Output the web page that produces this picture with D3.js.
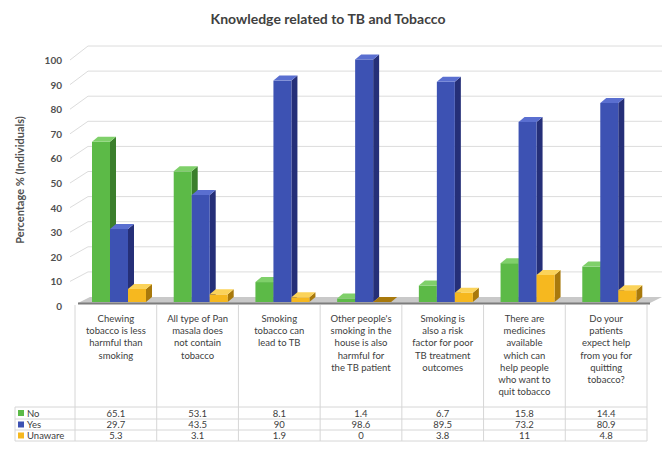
<!DOCTYPE html>
<html>
<head>
<meta charset="utf-8">
<script src="https://cdn.jsdelivr.net/npm/d3@7"></script>
<style>
  body { margin: 0; background: #fff; }
  text { font-family: Lato, "Open Sans", sans-serif; fill: #404040; }
</style>
</head>
<body>
<div id="chart"></div>
<script>
const categories = [
  "Chewing\ntobacco is less\nharmful than\nsmoking",
  "All type of Pan\nmasala does\nnot contain\ntobacco",
  "Smoking\ntobacco can\nlead to TB",
  "Other people's\nsmoking in the\nhouse is also\nharmful for\nthe TB patient",
  "Smoking is\nalso a risk\nfactor for poor\nTB treatment\noutcomes",
  "There are\nmedicines\navailable\nwhich can\nhelp people\nwho want to\nquit tobacco",
  "Do your\npatients\nexpect help\nfrom you for\nquitting\ntobacco?"
]
const seriesNames = ["No", "Yes", "Unaware"]
const noValues = [65.1, 53.1, 8.1, 1.4, 6.7, 15.8, 14.4]
const yesValues = [29.7, 43.5, 90, 98.6, 89.5, 73.2, 80.9]
const unawareValues = [5.3, 3.1, 1.9, 0, 3.8, 11, 4.8]
const yTicks = [0, 10, 20, 30, 40, 50, 60, 70, 80, 90, 100]

const colors = {
  No: { front: "#5cba47", top: "#7fd06a", side: "#3b7f2c" },
  Yes: { front: "#3d52b3", top: "#5a6fd0", side: "#252f78" },
  Unaware: { front: "#f6b81f", top: "#fbd35a", side: "#a8790c" }
}

const svgWidth = 669
const svgHeight = 457

const svg = d3.select("#chart").append("svg")
  .attr("width", svgWidth)
  .attr("height", svgHeight)

const rows = seriesNames.map((name, i) => ({
  name,
  values: [noValues, yesValues, unawareValues][i]
}))

const x = d3.scaleBand()
  .domain(d3.range(categories.length))
  .range([75, 647])

const xSub = d3.scaleBand()
  .domain(seriesNames)
  .range([17, 71])

// front plane and back wall
const y = d3.scaleLinear().domain([0, 100]).range([302, 56])
const yBack = d3.scaleLinear().domain([0, 100]).range([297, 46])
const depth = { dx: 6, dy: -5 }

// title
svg.append("text")
  .attr("x", 328)
  .attr("y", 24)
  .attr("text-anchor", "middle")
  .style("font-size", "14px")
  .style("font-weight", "bold")
  .text("Knowledge related to TB and Tobacco")

// y axis title
svg.append("text")
  .attr("transform", "translate(24, 180) rotate(-90)")
  .attr("text-anchor", "middle")
  .style("font-size", "11px")
  .style("font-weight", "bold")
  .style("fill", "#505050")
  .text("Percentage % (Individuals)")

// gridlines on back wall + side wall diagonals
const grid = svg.append("g")
grid.selectAll("line.back")
  .data(yTicks.slice(1))
  .join("line")
  .attr("x1", 88)
  .attr("x2", 662)
  .attr("y1", d => yBack(d))
  .attr("y2", d => yBack(d))
  .attr("stroke", "#dcdcdc")
  .attr("stroke-width", 1)
grid.selectAll("line.side")
  .data(yTicks.slice(1))
  .join("line")
  .attr("x1", 70)
  .attr("y1", d => y(d) + 4)
  .attr("x2", 88)
  .attr("y2", d => yBack(d))
  .attr("stroke", "#dcdcdc")

// tick labels
svg.append("g").selectAll("text")
  .data(yTicks)
  .join("text")
  .attr("x", 62)
  .attr("y", d => y(d) + 8)
  .attr("text-anchor", "end")
  .style("font-size", "10px")
  .style("font-weight", "bold")
  .style("fill", "#505050")
  .text(d => d)

// floor
svg.append("path")
  .attr("d", `M78,${y(0) + 1} L650,${y(0) + 1} L662,${yBack(0)} L90,${yBack(0)} Z`)
  .attr("fill", "#c9c9c9")
svg.append("line")
  .attr("x1", 78).attr("x2", 650)
  .attr("y1", y(0) + 1.5).attr("y2", y(0) + 1.5)
  .attr("stroke", "#7d7d7d")
  .attr("stroke-width", 2)

// 3D bars
const bars = svg.append("g")
categories.forEach((c, ci) => {
  rows.forEach(r => {
    const v = r.values[ci]
    const bx = x(ci) + xSub(r.name)
    const bw = xSub.bandwidth()
    const top = y(v)
    const bottom = y(0)
    const col = colors[r.name]
    const g = bars.append("g")
    // side
    g.append("path")
      .attr("d", `M${bx + bw},${top} L${bx + bw + depth.dx},${top + depth.dy} L${bx + bw + depth.dx},${bottom + depth.dy} L${bx + bw},${bottom} Z`)
      .attr("fill", col.side)
    // front
    g.append("rect")
      .attr("x", bx)
      .attr("y", top)
      .attr("width", bw)
      .attr("height", bottom - top)
      .attr("fill", col.front)
    // top
    g.append("path")
      .attr("d", `M${bx},${top} L${bx + depth.dx},${top + depth.dy} L${bx + bw + depth.dx},${top + depth.dy} L${bx + bw},${top} Z`)
      .attr("fill", v === 0 ? col.side : col.top)
  })
})

// data table
const table = svg.append("g")
const rowY = [407, 419, 430, 441]
const lineColor = "#d6d6d6"

table.selectAll("line.h")
  .data(rowY)
  .join("line")
  .attr("x1", 15)
  .attr("x2", 647)
  .attr("y1", d => d)
  .attr("y2", d => d)
  .attr("stroke", lineColor)

table.selectAll("line.v")
  .data(d3.range(categories.length + 1))
  .join("line")
  .attr("x1", d => d === categories.length ? 647 : x(d))
  .attr("x2", d => d === categories.length ? 647 : x(d))
  .attr("y1", 305)
  .attr("y2", 441)
  .attr("stroke", lineColor)

table.append("line")
  .attr("x1", 15).attr("x2", 15)
  .attr("y1", 407).attr("y2", 441)
  .attr("stroke", lineColor)

// category labels
categories.forEach((c, ci) => {
  const t = table.append("text")
    .attr("text-anchor", "middle")
    .style("font-size", "9.5px")
  c.split("\n").forEach((line, li) => {
    t.append("tspan")
      .attr("x", x(ci) + x.bandwidth() / 2)
      .attr("y", 322 + li * 12.2)
      .text(line)
  })
})

// legend rows and values
rows.forEach((r, ri) => {
  const cy = (rowY[ri] + rowY[ri + 1]) / 2
  table.append("rect")
    .attr("x", 18)
    .attr("y", cy - 3)
    .attr("width", 6)
    .attr("height", 6)
    .attr("fill", colors[r.name].front)
  table.append("text")
    .attr("x", 27)
    .attr("y", cy + 3.5)
    .style("font-size", "9.5px")
    .text(r.name)
  table.selectAll(null)
    .data(r.values)
    .join("text")
    .attr("x", (d, i) => x(i) + x.bandwidth() / 2)
    .attr("y", cy + 3.5)
    .attr("text-anchor", "middle")
    .style("font-size", "9.5px")
    .text(d => d)
})
</script>
</body>
</html>
